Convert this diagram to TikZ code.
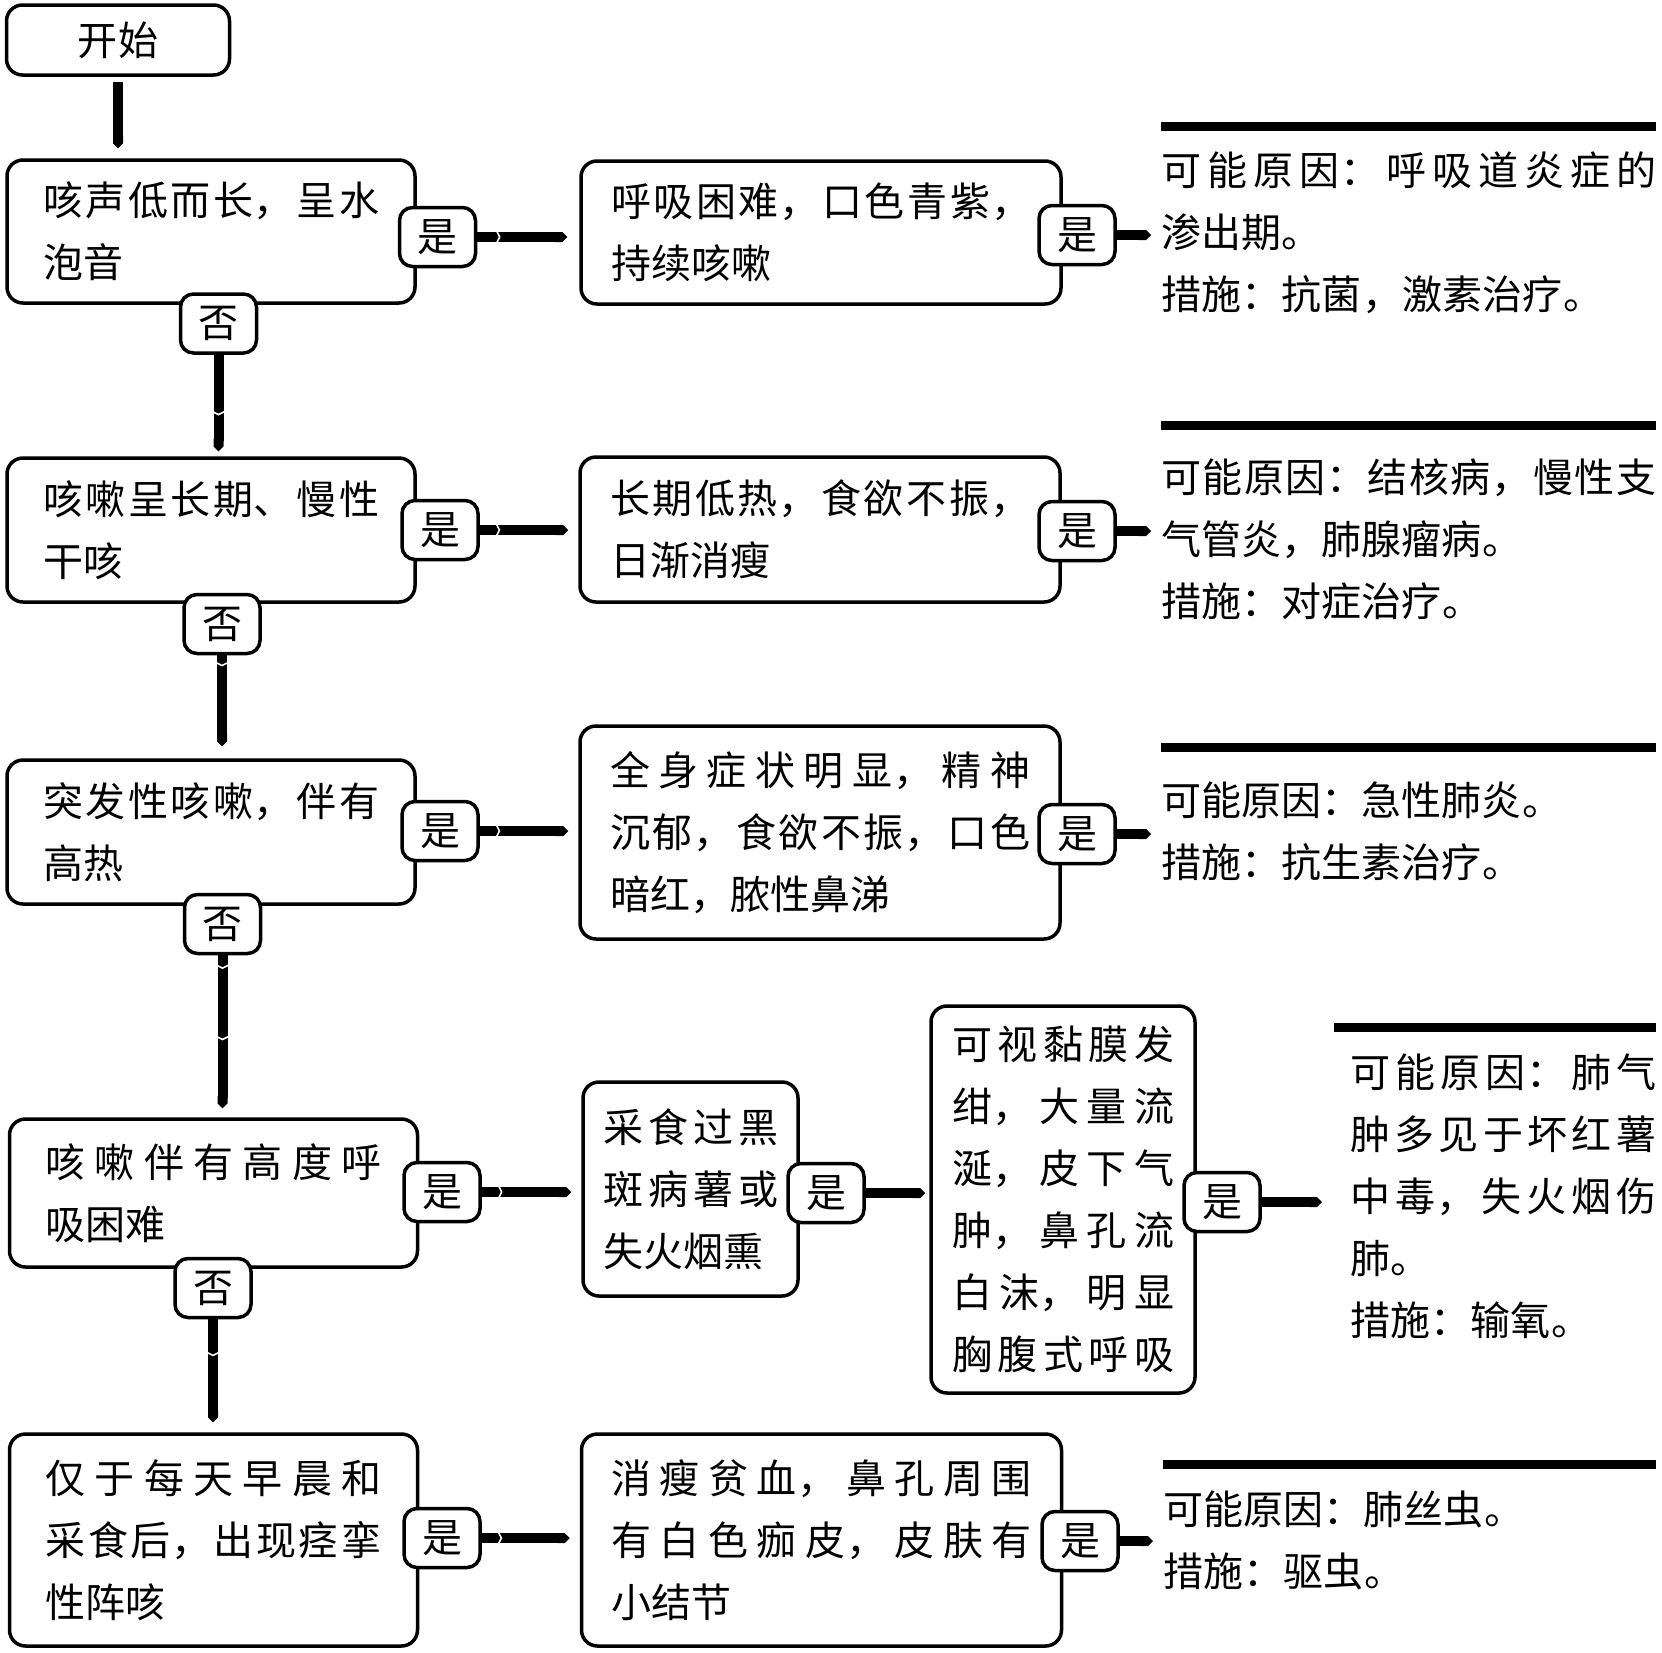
\documentclass[tikz,border=0pt]{standalone}
\usepackage{fontspec}
\setmainfont{Noto Sans CJK SC}[LetterSpace=2]
\XeTeXlinebreaklocale "zh"
\XeTeXlinebreakskip=0pt plus 30pt
\tolerance=10000
\hbadness=10000
\usepackage{tikz}
\usetikzlibrary{arrows.meta,decorations.markings}
\newcommand*{\cjktext}{\fontsize{40pt}{62pt}\selectfont}

\begin{document}
\begin{tikzpicture}[x=1pt, y=-1pt,
    box/.style={draw, line width=3.5pt, rounded corners=16pt, font=\cjktext, align=justify, inner ysep=0pt},
    qbox/.style={box, text width=336pt, inner xsep=36pt},
    sbox/.style={box, text width=420pt, inner xsep=30pt},
    ans/.style={draw, fill=white, line width=3.5pt, rounded corners=13pt, font=\cjktext, minimum width=76pt, minimum height=59pt, inner sep=0pt},
    cause/.style={font=\cjktext, align=justify, inner sep=0pt, anchor=base west},
    link/.style={line width=10pt, -{Triangle Cap}},
    bar/.style={line width=9pt},
    notch/.style={postaction={decorate, decoration={markings, mark=at position #1 with {\draw[white, line width=1.6pt, -, shorten <=0pt, shorten >=0pt] (-3pt,-6pt) -- (0pt,0pt) -- (-3pt,6pt);}}}}]
  \useasboundingbox (0,0) rectangle (1662,1652);

  % questions
  \node[box, align=center, minimum width=223pt, minimum height=70pt] (start) at (118,40) {开始};
  \node[qbox, minimum height=143pt] (q1) at (211,231.5) {咳声低而长，呈水\linebreak 泡音};
  \node[qbox, minimum height=144pt] (q2) at (211,530) {咳嗽呈长期、慢性\linebreak 干咳};
  \node[qbox, minimum height=144pt] (q3) at (211,832) {突发性咳嗽，伴有\linebreak 高热};
  \node[qbox, minimum height=148pt] (q4) at (213.5,1193) {咳嗽伴有高度呼\linebreak 吸困难};
  \node[qbox, minimum height=212pt] (q5) at (213.5,1540) {仅于每天早晨和\linebreak 采食后，出现痉挛\linebreak 性阵咳};

  % signs
  \node[sbox, minimum height=143pt] (s1) at (821,232.5) {呼吸困难，口色青紫，\linebreak 持续咳嗽};
  \node[sbox, minimum height=145pt] (s2) at (820,529.5) {长期低热，食欲不振，\linebreak 日渐消瘦};
  \node[sbox, minimum height=213pt] (s3) at (820,832.5) {全身症状明显，精神\linebreak 沉郁，食欲不振，口色\linebreak 暗红，脓性鼻涕};
  \node[box, text width=175pt, inner xsep=20pt, minimum height=214pt] (s4a) at (690.5,1189) {采食过黑\linebreak 斑病薯或\linebreak 失火烟熏};
  \node[box, text width=222pt, inner xsep=21pt, minimum height=387pt] (s4b) at (1063,1199.5) {可视黏膜发\linebreak 绀，大量流\linebreak 涎，皮下气\linebreak 肿，鼻孔流\linebreak 白沫，明显\linebreak \makebox[\linewidth][s]{胸\hfill 腹\hfill 式\hfill 呼\hfill 吸}};
  \node[sbox, minimum height=212pt] (s5) at (821.5,1540) {消瘦贫血，鼻孔周围\linebreak 有白色痂皮，皮肤有\linebreak 小结节};

  % causes
  \node[cause, text width=495pt] (r1) at (1161,185) {可能原因：呼吸道炎症的\linebreak 渗出期。\\措施：抗菌，激素治疗。};
  \node[cause, text width=495pt] (r2) at (1161,492) {可能原因：结核病，慢性支\linebreak 气管炎，肺腺瘤病。\\措施：对症治疗。};
  \node[cause, text width=495pt] (r3) at (1161,815) {可能原因：急性肺炎。\\措施：抗生素治疗。};
  \node[cause, text width=306pt] (r4) at (1350,1087) {可能原因：肺气\linebreak 肿多见于坏红薯\linebreak 中毒，失火烟伤\linebreak 肺。\\措施：输氧。};
  \node[cause, text width=493pt] (r5) at (1163,1524) {可能原因：肺丝虫。\\措施：驱虫。};

  \draw[bar] (1161,126) -- (1656,126);
  \draw[bar] (1161,425) -- (1656,425);
  \draw[bar] (1161,747) -- (1656,747);
  \draw[bar] (1334,1027) -- (1656,1027);
  \draw[bar] (1163,1464) -- (1656,1464);

  % answers
  \node[ans] (y1a) at (437.5,237) {是};
  \node[ans] (y1b) at (1077,235) {是};
  \node[ans] (y2a) at (440,530) {是};
  \node[ans] (y2b) at (1077,531) {是};
  \node[ans] (y3a) at (440,831) {是};
  \node[ans] (y3b) at (1077,834) {是};
  \node[ans] (y4a) at (442,1192) {是};
  \node[ans] (y4b) at (826,1193) {是};
  \node[ans] (y4c) at (1222,1202) {是};
  \node[ans] (y5a) at (442,1538) {是};
  \node[ans] (y5b) at (1080,1541) {是};
  \node[ans] (n1) at (218.5,323.5) {否};
  \node[ans] (n2) at (222,624) {否};
  \node[ans] (n3) at (222.5,924) {否};
  \node[ans] (n4) at (213,1288) {否};

  % links
  \draw[link, shorten <=5pt, shorten >=10pt] (start.south) -- (start.south |- q1.north);
  \draw[link, notch=0.59, shorten >=5pt] (n1.south) -- (n1.south |- q2.north);
  \draw[link, notch=0.1, shorten >=12pt] (n2.south) -- (n2.south |- q3.north);
  \draw[link, notch=0.08, notch=0.52, shorten >=9pt] (n3.south) -- (n3.south |- q4.north);
  \draw[link, notch=0.32, shorten >=10pt] (n4.south) -- (n4.south |- q5.north);

  \draw[link, notch=0.22, shorten >=12pt] (y1a.east) -- (y1a.east -| s1.west);
  \draw[link, notch=0.2, shorten >=10pt] (y2a.east) -- (y2a.east -| s2.west);
  \draw[link, notch=0.2, shorten >=10pt] (y3a.east) -- (y3a.east -| s3.west);
  \draw[link, notch=0.2, shorten >=10pt] (y4a.east) -- (y4a.east -| s4a.west);
  \draw[link, shorten >=4pt] (y4b.east) -- (y4b.east -| s4b.west);
  \draw[link, notch=0.2, shorten >=10pt] (y5a.east) -- (y5a.east -| s5.west);

  \draw[link, shorten >=10pt] (y1b.east) -- (y1b.east -| r1.west);
  \draw[link, shorten >=10pt] (y2b.east) -- (y2b.east -| r2.west);
  \draw[link, shorten >=10pt] (y3b.east) -- (y3b.east -| r3.west);
  \draw[link, shorten >=28pt] (y4c.east) -- (y4c.east -| r4.west);
  \draw[link, shorten >=10pt] (y5b.east) -- (y5b.east -| r5.west);
\end{tikzpicture}
\end{document}
